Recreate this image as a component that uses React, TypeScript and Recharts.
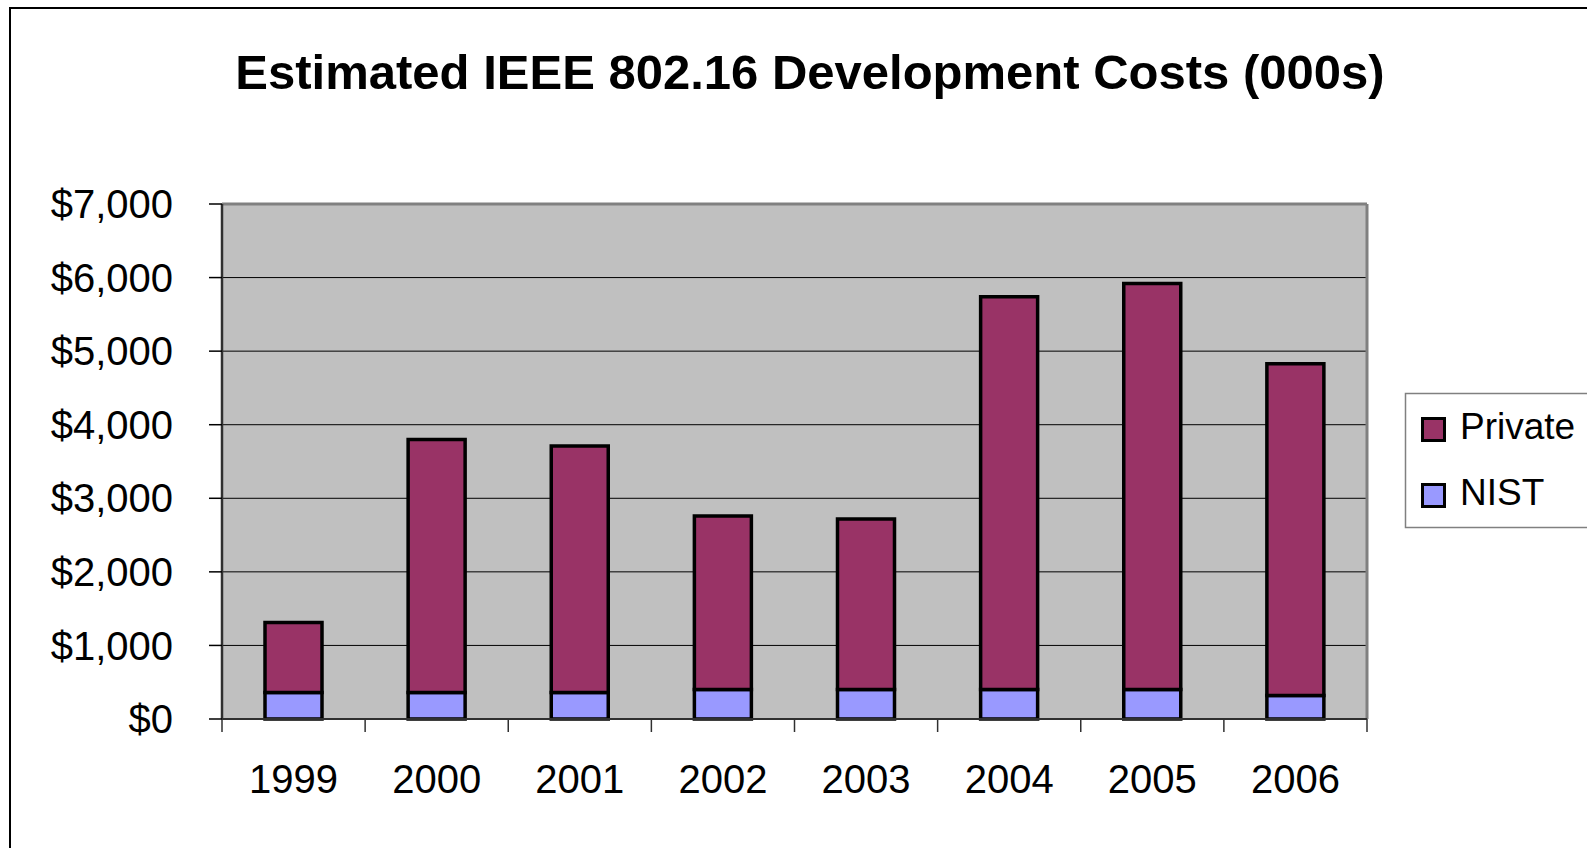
import React from 'react';
import { BarChart, Bar, XAxis, YAxis, CartesianGrid, ReferenceLine } from 'recharts';

const years = ['1999', '2000', '2001', '2002', '2003', '2004', '2005', '2006'];
const nist = [360, 360, 360, 400, 400, 400, 400, 320];
const privateCosts = [950, 3440, 3350, 2360, 2320, 5340, 5520, 4510];
const yTicks = [0, 1000, 2000, 3000, 4000, 5000, 6000, 7000];
const boundaryTicks = [0, 1, 2, 3, 4, 5, 6, 7, 8];
const title = 'Estimated IEEE 802.16 Development Costs (000s)';
const series = [
  { key: 'Private', color: '#993366' },
  { key: 'NIST', color: '#9999FF' },
];

const data = years.map((y, i) => ({ year: y, slot: i + 0.5, NIST: nist[i], Private: privateCosts[i] }));

const FONT = '"Liberation Sans", Arial, sans-serif';

const EmptyTick = () => <g />;

export default function App() {
  return (
    <div style={{ position: 'fixed', left: 0, top: 0, width: 1587, height: 848, overflow: 'hidden', background: '#fff', fontFamily: FONT }}>
      <div style={{ position: 'absolute', left: 9, top: 7, width: 1700, height: 900, borderLeft: '2px solid #000', borderTop: '2px solid #000' }} />
      <div style={{ position: 'absolute', left: 0, top: 0 }}>
        <BarChart width={1587} height={848} data={data} margin={{ top: 204, right: 220, left: 0, bottom: 0 }} barSize={57}>
          <CartesianGrid xAxisId={1} vertical={false} horizontal={true} stroke="#000" strokeWidth={1} fill="#C0C0C0" fillOpacity={1} />
          <XAxis
            xAxisId={0}
            dataKey="slot"
            type="number"
            domain={[0, 8]}
            allowDataOverflow={true}
            ticks={boundaryTicks}
            interval={0}
            height={1}
            tick={<EmptyTick />}
            tickSize={13}
            axisLine={{ stroke: '#303030', strokeWidth: 2 }}
            tickLine={{ stroke: '#303030', strokeWidth: 1.5 }}
          />
          <XAxis
            xAxisId={1}
            dataKey="year"
            height={128}
            axisLine={false}
            tickLine={false}
            tickSize={0}
            tickMargin={45}
            interval={0}
            tick={{ fill: '#000', fontSize: 40, fontFamily: FONT }}
          />
          <YAxis
            width={222}
            domain={[0, 7000]}
            ticks={yTicks}
            interval={0}
            tickSize={13}
            tickMargin={36}
            tickFormatter={(v: number) => '$' + v.toLocaleString('en-US')}
            axisLine={{ stroke: '#303030', strokeWidth: 2.5 }}
            tickLine={{ stroke: '#000', strokeWidth: 1.5 }}
            tick={{ fill: '#000', fontSize: 40, fontFamily: FONT }}
          />
          <ReferenceLine y={7000} xAxisId={1} stroke="#808080" strokeWidth={3} />
          <ReferenceLine x={8} xAxisId={0} stroke="#808080" strokeWidth={3} ifOverflow="visible" />
          <Bar xAxisId={1} dataKey="NIST" stackId="a" fill="#9999FF" stroke="#000" strokeWidth={3.5} isAnimationActive={false} />
          <Bar xAxisId={1} dataKey="Private" stackId="a" fill="#993366" stroke="#000" strokeWidth={3.5} isAnimationActive={false} />
        </BarChart>
      </div>
      <svg width={1587} height={848} style={{ position: 'absolute', left: 0, top: 0, pointerEvents: 'none' }}>
        <text x={810} y={89} textAnchor="middle" fontFamily={FONT} fontWeight="bold" fontSize={49} fill="#000">{title}</text>
        <rect x={1405.5} y={393.5} width={300} height={134} fill="#fff" stroke="#808080" strokeWidth={1.5} />
        {series.map((s, i) => (
          <g key={s.key}>
            <rect x={1422.5} y={418.5 + i * 66} width={22} height={22} fill={s.color} stroke="#000" strokeWidth={3} />
            <text x={1460} y={439 + i * 66} fontFamily={FONT} fontSize={37} fill="#000">{s.key}</text>
          </g>
        ))}
      </svg>
    </div>
  );
}
